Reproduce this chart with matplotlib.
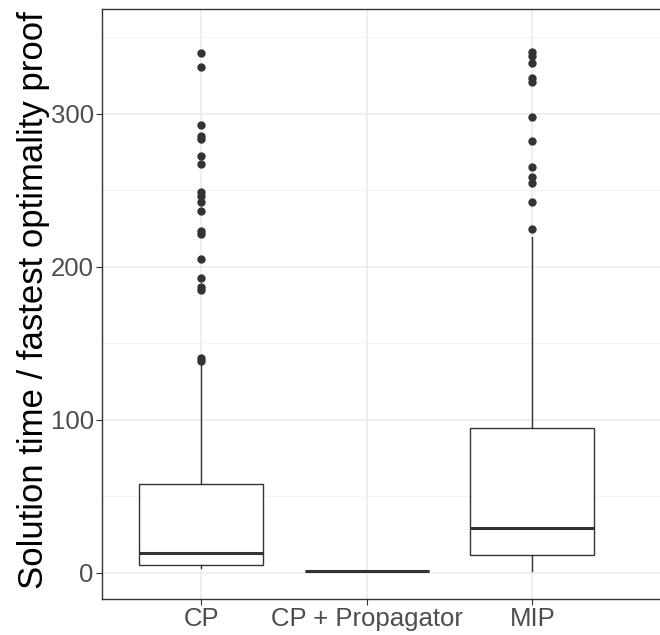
import matplotlib
matplotlib.use("Agg")
import matplotlib.pyplot as plt
from matplotlib.ticker import MultipleLocator

plt.rcParams['font.family'] = ['Liberation Sans', 'DejaVu Sans']

categories = ["CP", "CP + Propagator", "MIP"]
q1 = [5.2, 1.0, 11.8]
median = [12.9, 1.0, 29.2]
q3 = [58.0, 1.0, 94.6]
whislo = [3.5, 1.0, 1.0]
whishi = [136.0, 1.0, 219.5]
outliers_cp = [339.6, 330.6, 293.0, 285.6, 283.6, 272.6, 267.3, 249.0, 246.7,
               242.7, 236.3, 223.3, 221.6, 205.5, 192.8, 187.0, 184.7, 140.3, 138.5]
outliers_prop = []
outliers_mip = [340.3, 338.1, 333.1, 323.3, 320.6, 297.9, 282.6, 265.2, 258.6,
                254.6, 242.4, 225.0]
outliers = [outliers_cp, outliers_prop, outliers_mip]

stats = []
for i, name in enumerate(categories):
    stats.append(dict(label=name, q1=q1[i], med=median[i], q3=q3[i],
                      whislo=whislo[i], whishi=whishi[i], fliers=outliers[i]))

fig = plt.figure(figsize=(6.6, 6.35), dpi=100)
# panel is cut at the right edge of the picture
ax = fig.add_axes([102 / 660, 1 - 599 / 635, 560 / 660, 590 / 635])

dark = "#333333"
ax.bxp(stats, positions=[1, 2, 3], widths=0.75, showcaps=False, patch_artist=True,
       boxprops=dict(facecolor="white", edgecolor=dark, linewidth=1.0),
       whiskerprops=dict(color=dark, linewidth=1.0),
       medianprops=dict(color=dark, linewidth=2.2),
       flierprops=dict(marker="o", markerfacecolor=dark, markeredgecolor=dark,
                       markersize=5, linestyle="none"),
       zorder=3)

ax.set_xlim(0.4, 0.4 + 560 / 165.5)
ax.set_ylim(-17, 368.6)
ax.yaxis.set_major_locator(MultipleLocator(100))
ax.yaxis.set_minor_locator(MultipleLocator(50))
ax.set_xticks([1, 2, 3])
ax.set_xticklabels(categories)

ax.grid(True, which="major", color="#EBEBEB", linewidth=1.1, zorder=0)
ax.grid(True, which="minor", axis="y", color="#F2F2F2", linewidth=0.6, zorder=0)
ax.set_axisbelow(True)
ax.tick_params(which="minor", length=0)
ax.tick_params(which="major", length=4, width=0.8, color=dark, labelcolor="#4D4D4D",
               labelsize=18.5, pad=2)
for s in ax.spines.values():
    s.set_color(dark)
    s.set_linewidth(1.0)
ax.spines["right"].set_visible(False)

fig.text(34 / 660, 1 - 300 / 635, "Solution time / fastest optimality proof",
         rotation=90, ha="center", va="center", fontsize=25, color="black")

fig.savefig("out.png", dpi=100)
